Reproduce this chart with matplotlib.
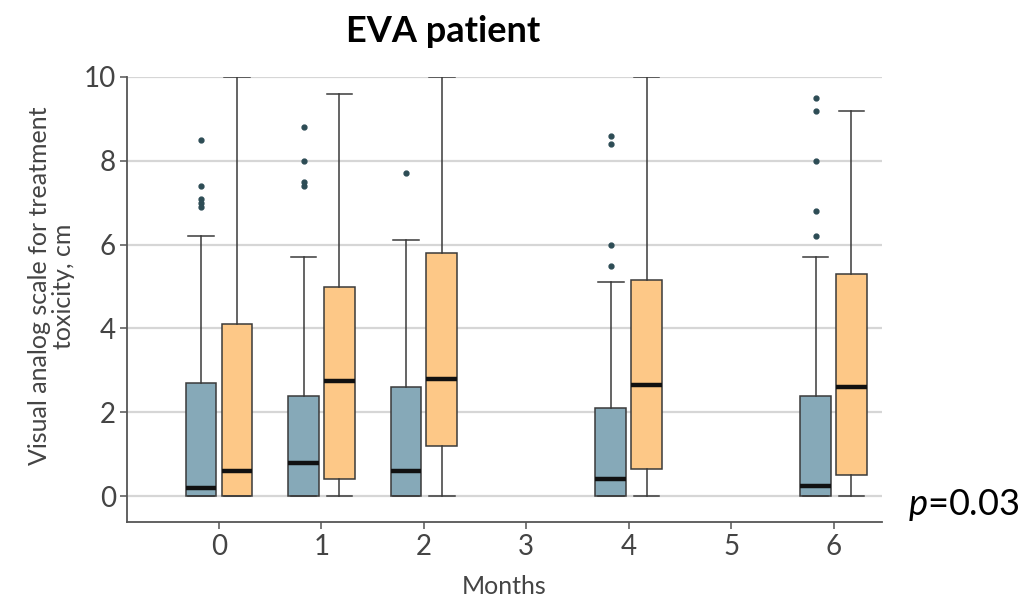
import matplotlib
import matplotlib.pyplot as plt

matplotlib.use("Agg")

plt.rcParams["font.family"] = ["Lato", "DejaVu Sans"]
plt.rcParams["mathtext.fontset"] = "custom"
plt.rcParams["mathtext.it"] = "Lato:italic"
plt.rcParams["mathtext.rm"] = "Lato"

months = [0, 1, 2, 4, 6]

# blue group
blue_q1 = [0, 0, 0, 0, 0]
blue_med = [0.2, 0.8, 0.6, 0.4, 0.25]
blue_q3 = [2.7, 2.4, 2.6, 2.1, 2.4]
blue_lo = [0, 0, 0, 0, 0]
blue_hi = [6.2, 5.7, 6.1, 5.1, 5.7]
blue_fliers = [
    [8.5, 7.4, 7.1, 7.0, 6.9],
    [8.8, 8.0, 7.5, 7.4],
    [7.7],
    [8.6, 8.4, 6.0, 5.5],
    [9.5, 9.2, 8.0, 6.8, 6.2],
]

# orange group
orange_q1 = [0, 0.4, 1.2, 0.65, 0.5]
orange_med = [0.6, 2.75, 2.8, 2.65, 2.6]
orange_q3 = [4.1, 5.0, 5.8, 5.15, 5.3]
orange_lo = [0, 0, 0, 0, 0]
orange_hi = [10, 9.6, 10, 10, 9.2]

BLUE = "#86a9b8"
ORANGE = "#fdc887"
EDGE = "#3a3a3a"
GREY = "#555555"


def make_stats(q1, med, q3, lo, hi, fliers=None):
    out = []
    for i in range(len(med)):
        out.append({
            "q1": q1[i], "med": med[i], "q3": q3[i],
            "whislo": lo[i], "whishi": hi[i],
            "fliers": fliers[i] if fliers else [],
        })
    return out


def draw_group(ax, stats, offset, color):
    ax.bxp(
        stats,
        positions=[m + offset for m in months],
        widths=0.3,
        patch_artist=True,
        showfliers=True,
        manage_ticks=False,
        boxprops=dict(facecolor=color, edgecolor=EDGE, linewidth=1.1),
        medianprops=dict(color="#111111", linewidth=3.2),
        whiskerprops=dict(color=EDGE, linewidth=1.1),
        capprops=dict(color=EDGE, linewidth=1.1),
        capwidths=0.25,
        flierprops=dict(marker="o", markersize=3.5, markerfacecolor="#2d4c55",
                        markeredgecolor="#2d4c55"),
        zorder=3,
    )


fig = plt.figure(figsize=(10.31, 6.0), dpi=100)
ax = fig.add_axes([0.1232, 0.1305, 0.7320, 0.7412])

draw_group(ax, make_stats(blue_q1, blue_med, blue_q3, blue_lo, blue_hi, blue_fliers),
           -0.175, BLUE)
draw_group(ax, make_stats(orange_q1, orange_med, orange_q3, orange_lo, orange_hi),
           0.175, ORANGE)

ax.set_xlim(-0.898, 6.47)
ax.set_ylim(-0.61, 10)
ax.set_xticks(range(7))
ax.set_yticks(range(0, 11, 2))
ax.yaxis.grid(True, color="#d6d6d6", linewidth=1.6, zorder=0)
ax.set_axisbelow(True)

for side in ["top", "right"]:
    ax.spines[side].set_visible(False)
for side in ["left", "bottom"]:
    ax.spines[side].set_color(GREY)
    ax.spines[side].set_linewidth(1.3)

ax.tick_params(axis="both", colors=GREY, labelsize=20, length=5, width=1.1,
               labelcolor="#444444")
ax.tick_params(axis="x", pad=4)
ax.tick_params(axis="y", pad=3)

ax.set_xlabel("Months", fontsize=18, color="#444444", labelpad=11)
ax.set_ylabel("Visual analog scale for treatment\ntoxicity, cm", fontsize=18,
              color="#444444", linespacing=1.05)
ax.yaxis.set_label_coords(-0.069, 0.53)

fig.text(0.43, 1 - 42 / 600, "EVA patient", fontsize=26, fontweight="bold",
         ha="center", va="baseline", color="black")
fig.text(908 / 1031, 1 - 515 / 600, "$p$=0.03", fontsize=26, ha="left",
         va="baseline", color="black")

fig.savefig("out.png", dpi=100)
